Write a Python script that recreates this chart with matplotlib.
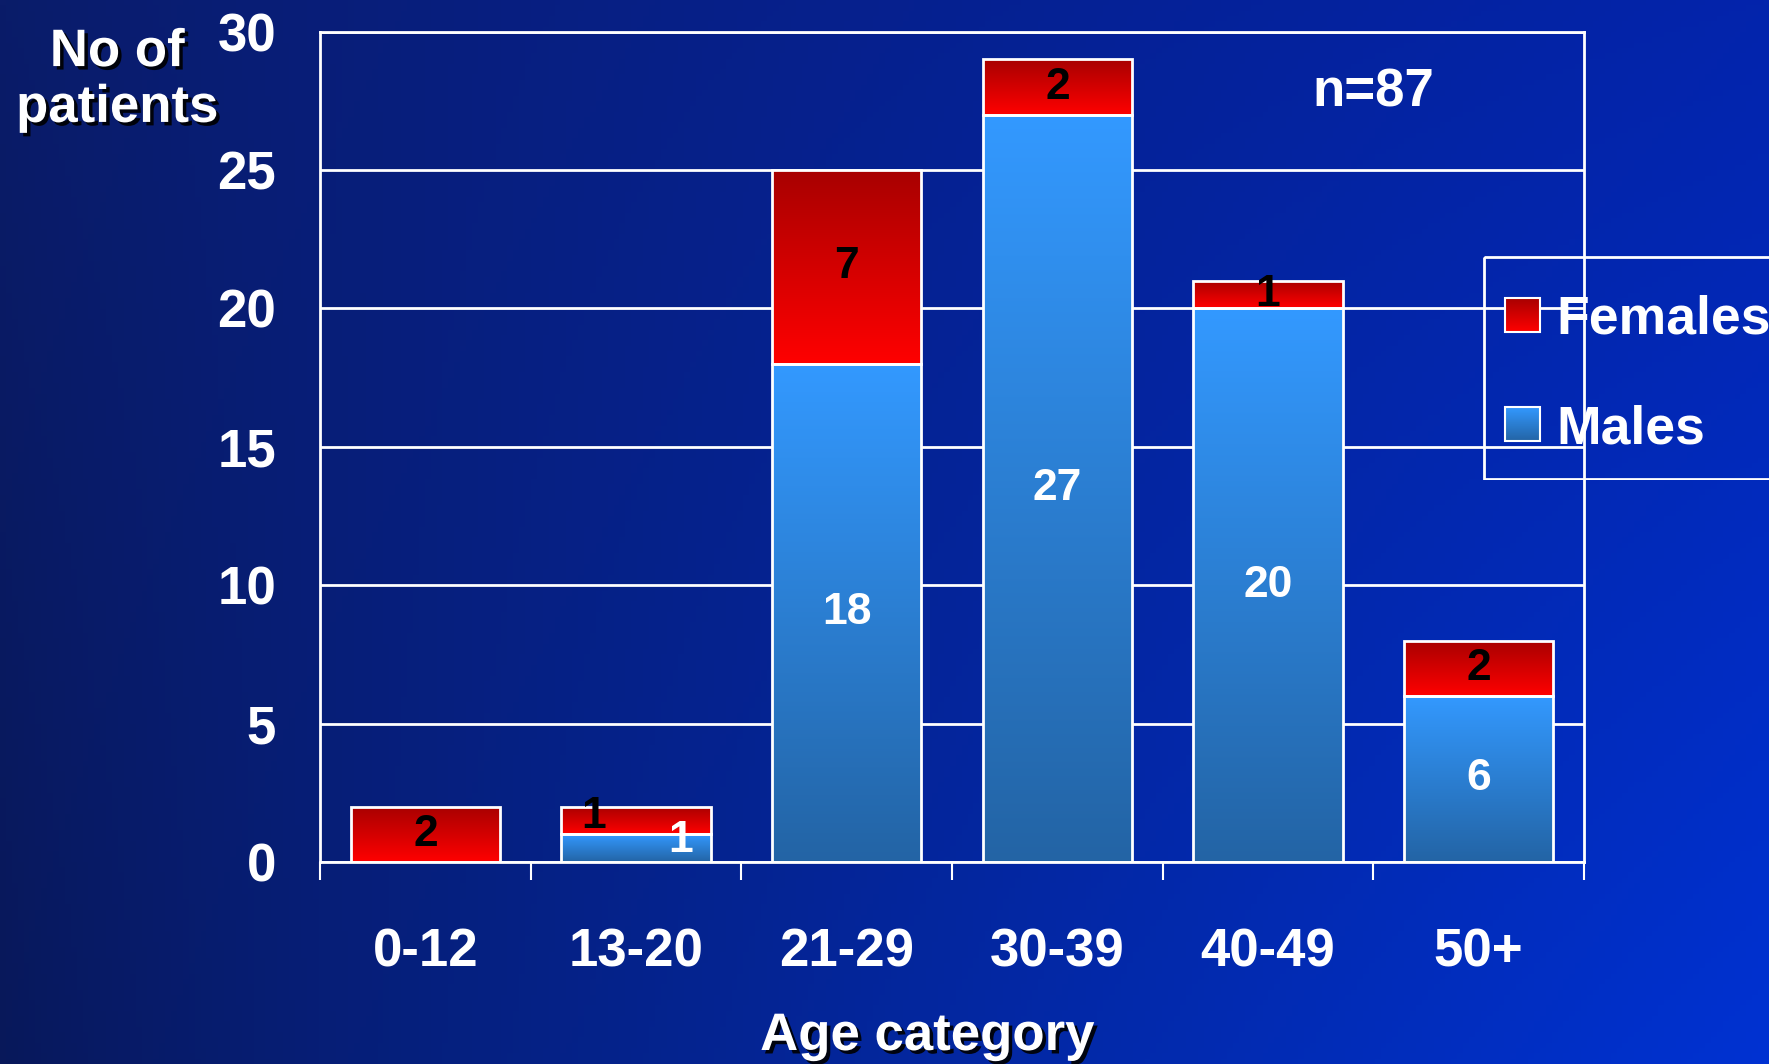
import numpy as np
import matplotlib
matplotlib.use('Agg')
import matplotlib.pyplot as plt
import matplotlib.patheffects as pe
from matplotlib.colors import LinearSegmentedColormap
from matplotlib.patches import Rectangle

# Datos
categories = ['0-12', '13-20', '21-29', '30-39', '40-49', '50+']
males = [0, 1, 18, 27, 20, 6]
females = [2, 1, 7, 2, 1, 2]
n_total = 87

plt.rcParams['font.family'] = ['Liberation Sans', 'DejaVu Sans']
plt.rcParams['font.weight'] = 'bold'

W, H = 1769, 1064
fig = plt.figure(figsize=(W / 100, H / 100), dpi=100)

# Fondo en degradado (esquinas)
bg = fig.add_axes([0, 0, 1, 1], zorder=-10)
tl = np.array([10, 28, 105]) / 255
tr = np.array([3, 36, 172]) / 255
bl = np.array([8, 24, 90]) / 255
br = np.array([0, 50, 210]) / 255
gx, gy = np.meshgrid(np.linspace(0, 1, 300) ** 0.85, np.linspace(0, 1, 200))
img = ((1 - gx)[..., None] * ((1 - gy)[..., None] * tl + gy[..., None] * bl)
       + gx[..., None] * ((1 - gy)[..., None] * tr + gy[..., None] * br))
bg.imshow(img, aspect='auto', extent=(0, 1, 0, 1), origin='upper')
bg.set_axis_off()

ax = fig.add_axes([320 / W, 1 - 862 / H, 1264 / W, 830.3 / H])
ax.set_facecolor('none')

cm_f = LinearSegmentedColormap.from_list('fem', ['#a80000', '#ff0000'])
cm_m = LinearSegmentedColormap.from_list('mal', ['#3399ff', '#2364a5'])
grad = np.linspace(0, 1, 256).reshape(-1, 1)

x = np.arange(len(categories))
bw = 0.71


def gradient_bars(bars, cmap):
    for b in bars:
        if b.get_height() == 0:
            continue
        x0, y0 = b.get_x(), b.get_y()
        x1, y1 = x0 + b.get_width(), y0 + b.get_height()
        im = ax.imshow(grad, cmap=cmap, aspect='auto', origin='upper',
                       extent=(x0, x1, y0, y1), zorder=2)
        im.set_clip_path(b)
        b.set_facecolor('none')
        b.set_zorder(3)


bm = ax.bar(x, males, bw, edgecolor='white', linewidth=2)
bf = ax.bar(x, females, bw, bottom=males, edgecolor='white', linewidth=2)
gradient_bars(bm, cm_m)
gradient_bars(bf, cm_f)

# Etiquetas de los segmentos
for i in range(len(categories)):
    dx_f, dx_m = 0, 0
    yf = males[i] + females[i] / 2
    ym = males[i] / 2
    if males[i] == 1:  # etiquetas desplazadas como en el original
        dx_f, dx_m = -0.2, 0.21
        yf, ym = males[i] + 0.63, 0.76
    if females[i]:
        ax.text(x[i] + dx_f, yf, str(females[i]), color='black', fontsize=32,
                ha='center', va='center', zorder=5)
    if males[i]:
        ax.text(x[i] + dx_m, ym, str(males[i]), color='white', fontsize=32,
                ha='center', va='center', zorder=5)

ax.set_xlim(-0.5, len(categories) - 0.5)
ax.set_ylim(0, 30)
ax.set_yticks(np.arange(0, 31, 5))
ax.yaxis.grid(True, color='white', linewidth=2, zorder=0)
ax.set_axisbelow(True)
ax.tick_params(axis='y', length=0, pad=31.5, labelsize=38, labelcolor='white')
ax.set_xticks(np.arange(-0.5, len(categories)), labels=[])
ax.set_xticks(x, labels=categories, minor=True)
ax.tick_params(axis='x', which='major', length=13, width=1.5, color='white')
ax.tick_params(axis='x', which='minor', length=0, pad=47, labelsize=38,
               labelcolor='white')
for s in ax.spines.values():
    s.set_color('white')
    s.set_linewidth(2)

ax.text(4.5, 27.8, 'n=%d' % n_total, color='white', fontsize=38,
        ha='center', va='center')

shadow = [pe.SimplePatchShadow(offset=(2.5, -2.5), shadow_rgbFace='black',
                               alpha=0.9), pe.Normal()]
fig.text(117 / W, 1 - 80 / H, 'No of\npatients', color='white', fontsize=38,
         ha='center', va='center', linespacing=1.15, path_effects=shadow)
fig.text(927 / W, 1 - 1036 / H, 'Age category', color='white', fontsize=38,
         ha='center', va='center', path_effects=shadow)

# Leyenda manual
lg = fig.add_axes([1483 / W, 1 - 480 / H, (W - 1483) / W, 224 / H])
lg.set_axis_off()
lg.add_patch(Rectangle((1, 1), 400, 222, facecolor='none', edgecolor='white',
                       linewidth=2, clip_on=True))
items = [('Females', cm_f, 59), ('Males', cm_m, 168)]
for name, cm, yc in items:
    lg.imshow(grad, cmap=cm, aspect='auto', origin='upper',
              extent=(22, 57, yc + 17, yc - 17))
    lg.add_patch(Rectangle((22, yc - 17), 35, 34, facecolor='none',
                           edgecolor='white', linewidth=1.5))
    lg.text(73, yc + 5, name, color='white', fontsize=38.5, ha='left',
            va='center')
lg.set_xlim(0, W - 1483)
lg.set_ylim(224, 0)

fig.savefig('out.png', dpi=100)
